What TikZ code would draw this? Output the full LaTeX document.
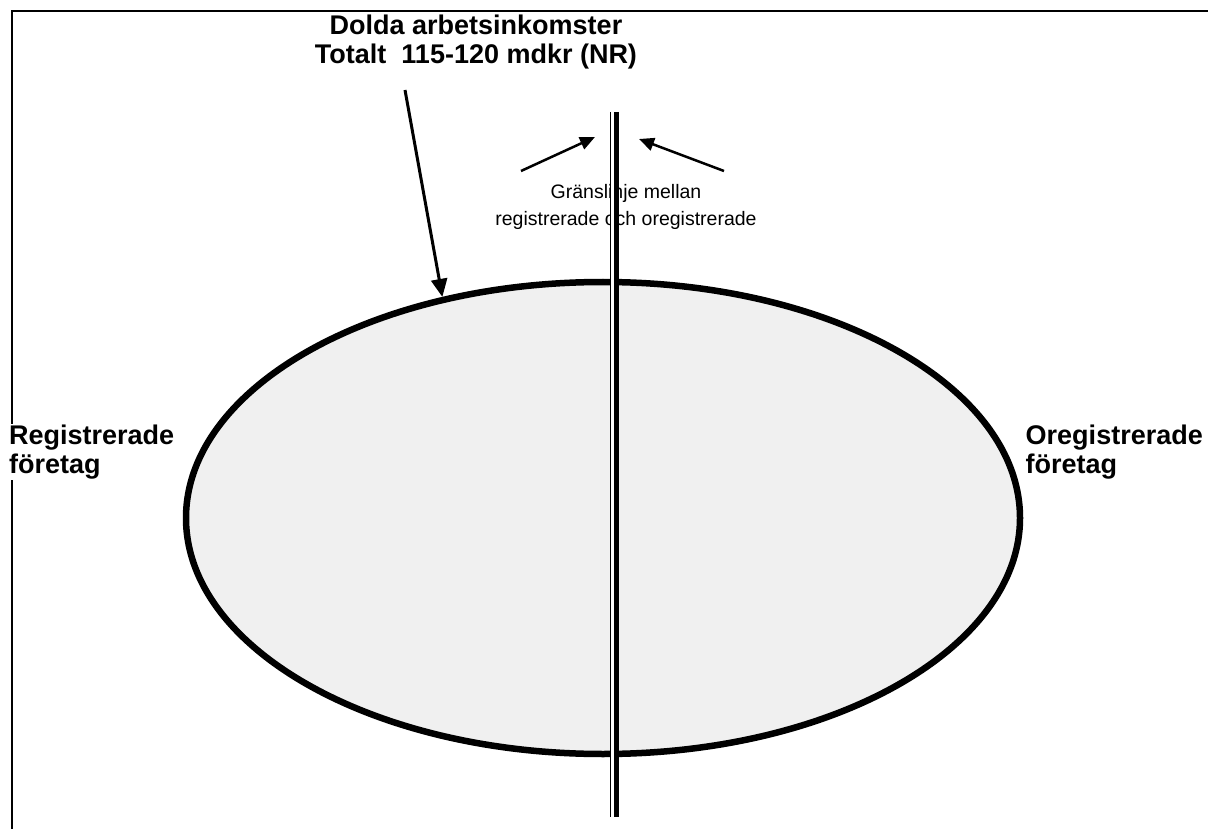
\documentclass[tikz,border=0pt]{standalone}
\usepackage{fontspec}
\setmainfont{Liberation Sans}
\usetikzlibrary{shapes.geometric,arrows.meta}
\begin{document}
\begin{tikzpicture}[x=1pt,y=-1pt,
  lbl/.style={font=\fontsize{27}{29}\selectfont\bfseries,align=left,inner sep=1pt},
  pil/.style={line width=2.5pt,-{Triangle[length=15pt,width=13pt]}}]
  \useasboundingbox (0,0) rectangle (1208,829);
  \draw[line width=2pt] (12,829)--(12,11)--(1208,11);
  \node[ellipse,draw,line width=6.5pt,fill=black!6,minimum width=834pt,minimum height=472pt,inner sep=0pt] (oval) at (603,518) {};
  \node[lbl,align=center] (titel) at (476,42) {Dolda arbetsinkomster\\Totalt\ \ 115-120 mdkr (NR)};
  \node[lbl,fill=white,anchor=west] (reg) at (8,452) {Registrerade\\företag};
  \node[lbl,anchor=east] (oreg) at (1204,452) {Oregistrerade\\företag};
  \node[font=\fontsize{19.5}{27}\selectfont,align=center] (grans) at (626,207) {Gränslinje mellan\\registrerade och oregistrerade};
  % gränslinjen
  \fill[white] (611,112) rectangle (614,817);
  \draw[line width=1.8pt] (610.5,112)--(610.5,817);
  \draw[line width=5pt] (616.5,112)--(616.5,817);
  % pilar
  \coordinate (svans) at (405,90);
  \coordinate (vs) at (521,171); \coordinate (vp) at (595,137);
  \coordinate (hs) at (724,171); \coordinate (hp) at (639,139);
  \draw[pil,line width=3pt,-{Triangle[length=18pt,width=16pt]}] (svans)--(oval.126);
  \draw[pil] (vs)--(vp);
  \draw[pil] (hs)--(hp);
\end{tikzpicture}
\end{document}
